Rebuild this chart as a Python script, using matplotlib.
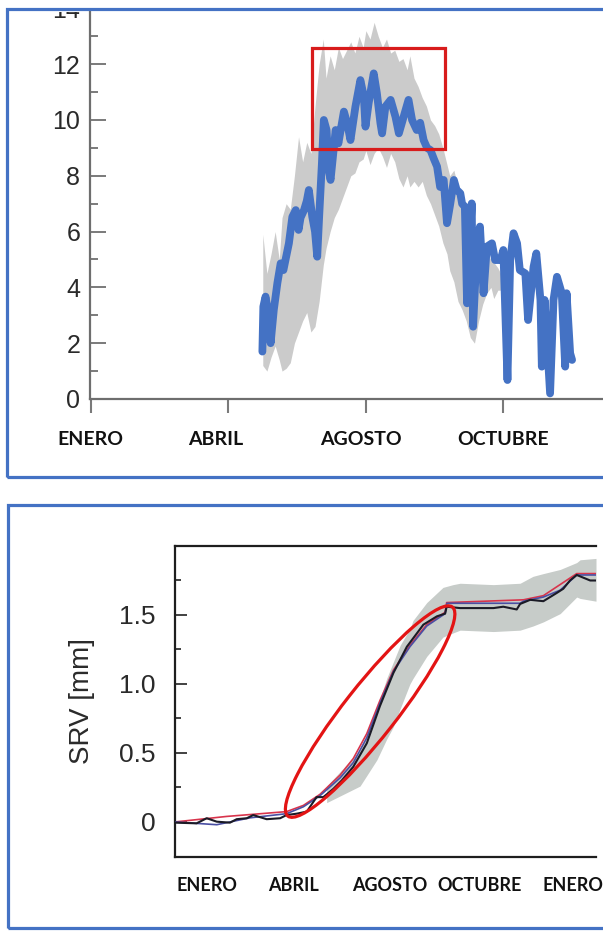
import numpy as np
import matplotlib
matplotlib.use("Agg")
import matplotlib.pyplot as plt
from matplotlib.patches import Rectangle, Ellipse
from matplotlib.transforms import ScaledTranslation, Bbox

plt.rcParams['font.family'] = ['Liberation Sans', 'DejaVu Sans']

# ------------------------------------------------------------
# Datos - panel superior (eje x: indice de mes marcado)
# ------------------------------------------------------------
top_tick_pos = [0, 1, 2, 3]
top_label_pos = [-0.007, 0.908, 1.961, 2.999]
top_labels = ["ENERO", "ABRIL", "AGOSTO", "OCTUBRE"]

serie_x = [1.247, 1.254, 1.270, 1.295, 1.307, 1.330, 1.356, 1.380, 1.400, 1.420,
           1.440, 1.465, 1.490, 1.510, 1.525, 1.550, 1.570, 1.585, 1.610, 1.630,
           1.646, 1.660, 1.680, 1.694, 1.714, 1.730, 1.743, 1.780, 1.800, 1.840,
           1.864, 1.888, 1.924, 1.960, 1.985, 1.997, 2.020, 2.057, 2.080, 2.106,
           2.118, 2.142, 2.180, 2.215, 2.240, 2.275, 2.310, 2.336, 2.370, 2.395,
           2.420, 2.445, 2.470, 2.495, 2.518, 2.540, 2.566, 2.590, 2.614, 2.640,
           2.660, 2.687, 2.700, 2.720, 2.736, 2.770, 2.780, 2.810, 2.830, 2.856,
           2.880, 2.917, 2.940, 2.980, 3.000, 3.030, 3.050, 3.074, 3.100, 3.120,
           3.160, 3.180, 3.220, 3.240, 3.270, 3.280, 3.300, 3.340, 3.365, 3.390,
           3.425, 3.450, 3.460, 3.486, 3.500]
serie_y = [1.70, 3.31, 3.67, 2.95, 2.00, 3.19, 4.15, 4.86, 4.62, 5.10,
           5.58, 6.53, 6.77, 6.06, 6.50, 6.77, 7.10, 7.49, 6.53, 6.00,
           5.10, 6.53, 8.44, 10.00, 9.64, 8.20, 7.85, 9.64, 9.16, 10.30,
           9.88, 9.28, 10.48, 11.43, 10.84, 9.76, 10.60, 11.67, 10.96, 9.88,
           9.52, 10.48, 10.72, 10.12, 9.52, 10.12, 10.72, 10.00, 9.64, 9.90,
           9.28, 9.00, 8.92, 8.60, 8.33, 7.60, 7.85, 6.30, 7.00, 7.85,
           7.50, 7.37, 7.00, 6.89, 3.43, 7.01, 2.59, 5.70, 6.18, 3.79,
           5.46, 5.58, 4.98, 4.98, 5.34, 0.68, 4.98, 5.94, 5.58, 4.62,
           4.50, 2.83, 4.74, 5.22, 3.55, 1.16, 3.55, 0.20, 3.55, 4.38,
           3.79, 1.16, 3.79, 1.64, 1.40]

banda_x = [1.25, 1.28, 1.31, 1.34, 1.37, 1.39, 1.42, 1.45, 1.48, 1.51,
           1.54, 1.57, 1.60, 1.63, 1.66, 1.69, 1.71, 1.74, 1.77, 1.80,
           1.83, 1.86, 1.89, 1.92, 1.95, 1.98, 2.00, 2.03, 2.06, 2.09,
           2.12, 2.15, 2.18, 2.21, 2.24, 2.27, 2.30, 2.32, 2.35, 2.38,
           2.41, 2.44, 2.47, 2.50, 2.53, 2.56, 2.59, 2.61, 2.64, 2.67,
           2.70, 2.73, 2.76, 2.79, 2.82, 2.85, 2.88, 2.91, 2.93, 2.96,
           2.99, 3.02]
banda_sup = [5.9, 4.5, 5.2, 6.0, 5.0, 6.5, 7.0, 6.8, 8.0, 9.4,
             8.5, 9.2, 8.8, 10.5, 12.0, 12.9, 11.5, 12.3, 11.8, 12.6,
             12.2, 12.5, 12.8, 12.4, 13.0, 12.6, 13.2, 12.9, 13.5, 13.0,
             12.6, 12.9, 12.4, 12.5, 12.1, 12.2, 11.8, 12.3, 11.5, 11.2,
             10.8, 10.5, 10.0, 9.8, 9.5, 9.0, 8.4, 8.0, 8.2, 7.6,
             7.0, 6.6, 6.0, 5.6, 5.5, 5.4, 5.2, 5.0, 4.9, 4.7,
             4.4, 4.2]
banda_inf = [1.2, 1.0, 1.5, 1.9, 1.4, 1.0, 1.1, 1.3, 2.0, 2.4,
             2.8, 3.1, 2.4, 2.6, 3.5, 4.8, 5.4, 6.0, 6.5, 6.8,
             7.2, 7.6, 8.0, 8.1, 8.5, 8.6, 8.9, 8.4, 8.8, 9.0,
             8.7, 8.3, 8.8, 8.5, 7.9, 7.6, 8.0, 7.6, 7.8, 7.6,
             7.8, 7.3, 7.0, 6.6, 6.2, 5.6, 5.2, 4.6, 4.2, 3.5,
             3.2, 2.8, 2.2, 2.0, 2.8, 3.4, 3.8, 4.0, 3.6, 3.9,
             3.9, 4.0]

# recuadro rojo (x0, x1, y0, y1)
caja = (1.605, 2.578, 8.96, 12.58)

# ------------------------------------------------------------
# Datos - panel inferior (eje x: meses desde ENERO)
# ------------------------------------------------------------
bot_label_pos = [0.0, 2.81, 5.98, 8.89, 11.97]
bot_labels = ["ENERO", "ABRIL", "AGOSTO", "OCTUBRE", "ENERO"]

negro_x = [-1.05, -0.34, -0.01, 0.32, 0.75, 0.97, 1.30, 1.51, 1.95, 2.39,
           2.60, 2.93, 3.26, 3.58, 3.80, 4.13, 4.40, 4.78, 5.22, 5.65,
           6.09, 6.53, 7.07, 7.51, 7.78, 7.83, 8.27, 9.36, 9.68, 10.12,
           10.23, 10.56, 10.99, 11.21, 11.43, 11.64, 11.86, 12.08, 12.30, 12.52,
           12.71]
negro_y = [-0.005, -0.01, 0.027, 0.002, -0.005, 0.02, 0.027, 0.05, 0.02, 0.027,
           0.05, 0.06, 0.075, 0.18, 0.18, 0.24, 0.30, 0.40, 0.57, 0.84,
           1.08, 1.27, 1.43, 1.49, 1.51, 1.56, 1.55, 1.55, 1.56, 1.54,
           1.58, 1.61, 1.60, 1.63, 1.66, 1.69, 1.75, 1.79, 1.77, 1.75,
           1.75]

rojo_x = [-1.05, 0.64, 2.60, 3.15, 3.69, 4.35, 4.78, 5.22, 5.65, 6.09,
          6.63, 7.18, 7.78, 7.83, 10.34, 10.99, 12.08, 12.71]
rojo_y = [0.0, 0.04, 0.075, 0.12, 0.20, 0.34, 0.46, 0.64, 0.88, 1.10,
          1.28, 1.43, 1.52, 1.59, 1.61, 1.64, 1.80, 1.80]

azul_x = [-1.05, 0.32, 0.75, 1.41, 2.60, 3.15, 3.69, 4.35, 4.78, 5.22,
          5.65, 6.09, 6.63, 7.18, 7.78, 7.84, 10.23, 10.34, 10.99, 11.54,
          12.08, 12.71]
azul_y = [0.0, -0.02, 0.0, 0.03, 0.06, 0.11, 0.19, 0.32, 0.43, 0.61,
          0.86, 1.09, 1.27, 1.42, 1.51, 1.585, 1.585, 1.60, 1.63, 1.68,
          1.79, 1.79]

gris_x = [3.91, 5.00, 5.55, 5.87, 6.09, 6.31, 6.63, 6.73, 7.18, 7.71,
          8.04, 8.27, 9.36, 10.23, 10.65, 10.99, 11.54, 12.08, 12.19, 12.71]
gris_sup = [0.26, 0.52, 0.82, 1.04, 1.16, 1.28, 1.40, 1.46, 1.59, 1.70,
            1.72, 1.73, 1.72, 1.73, 1.78, 1.80, 1.83, 1.88, 1.90, 1.91]
gris_inf = [0.14, 0.26, 0.45, 0.60, 0.69, 0.82, 1.00, 1.04, 1.20, 1.34,
            1.37, 1.39, 1.38, 1.39, 1.42, 1.45, 1.51, 1.63, 1.62, 1.60]

# elipse roja: centro en datos
elipse_centro = (5.33, 0.80)

# ------------------------------------------------------------
# Figura
# ------------------------------------------------------------
W, H = 603, 931
fig = plt.figure(figsize=(W / 100, H / 100), dpi=100)


def px_box(x0, y0, x1, y1):
    # pixeles (origen arriba-izquierda) -> fracciones de figura
    return [x0 / W, 1 - y1 / H, (x1 - x0) / W, (y1 - y0) / H]


# ---------------- panel superior ----------------
ax1 = fig.add_axes(px_box(90, 0, 603, 399))
ax1.fill_between(banda_x, banda_inf, banda_sup, color='#cbcbcb', lw=0, zorder=1)
ax1.plot(serie_x, serie_y, color='#4472c4', lw=5.6, solid_joinstyle='round',
         solid_capstyle='round', zorder=2)
x0, x1, y0, y1 = caja
ax1.add_patch(Rectangle((x0, y0), x1 - x0, y1 - y0, fill=False,
                        edgecolor='#d81c1c', lw=2.3, zorder=3))

ax1.set_xlim(0, 3.725)
ax1.set_ylim(0, 14.3)
for s in ['top', 'right']:
    ax1.spines[s].set_visible(False)
for s in ['left', 'bottom']:
    ax1.spines[s].set_color('#6e6e6e')
    ax1.spines[s].set_linewidth(1.6)

ax1.set_yticks(range(0, 15, 2))
ax1.set_yticks(range(1, 14, 2), minor=True)
ax1.tick_params(axis='y', which='major', direction='in', length=11.5, width=1.4,
                color='#7a7a7a', labelsize=18, labelcolor='#2a2a2a', pad=7)
ax1.tick_params(axis='y', which='minor', direction='in', length=5.8, width=1.4,
                color='#7a7a7a')
# el "14" queda cortado por el marco como en la captura original
clip = Bbox([[0, 0], [W, H - 12]])
for lab in ax1.get_yticklabels():
    lab.set_clip_box(clip)
    lab.set_clip_on(True)

ax1.xaxis.remove_overlapping_locs = False
ax1.set_xticks(top_tick_pos)
ax1.set_xticklabels([])
ax1.set_xticks(top_label_pos, top_labels, minor=True)
ax1.tick_params(axis='x', which='major', direction='out', length=10, width=1.5,
                color='#7a7a7a')
ax1.tick_params(axis='x', which='minor', length=0, pad=23)
for lab in ax1.get_xticklabels(minor=True):
    lab.set_fontfamily(['Lato', 'DejaVu Sans'])
    lab.set_fontweight('bold')
    lab.set_fontsize(14)
    lab.set_color('#111111')

# ---------------- panel inferior ----------------
ax2 = fig.add_axes(px_box(175, 546, 596, 857))
ax2.fill_between(gris_x, gris_inf, gris_sup, color='#c7ccc9', lw=0, zorder=1)
ax2.plot(rojo_x, rojo_y, color='#d8344c', lw=1.2, zorder=2)
ax2.plot(azul_x, azul_y, color='#4a4fa3', lw=1.2, zorder=3)
ax2.plot(negro_x, negro_y, color='#1b1b26', lw=1.5, zorder=4)

ax2.set_xlim(-1.046, 12.71)
ax2.set_ylim(-0.254, 2.0)
ax2.spines['right'].set_visible(False)
for s in ['left', 'top', 'bottom']:
    ax2.spines[s].set_color('#1e1e1e')
    ax2.spines[s].set_linewidth(1.6)

ax2.set_yticks([0, 0.5, 1.0, 1.5], ["0", "0.5", "1.0", "1.5"])
ax2.set_yticks([0.25, 0.75, 1.25, 1.75], minor=True)
ax2.tick_params(axis='y', which='major', direction='in', length=8.6, width=1.3,
                color='#333333', labelsize=19, labelcolor='#2a2a2a', pad=14)
ax2.tick_params(axis='y', which='minor', direction='in', length=4.3, width=1.3,
                color='#333333')
ax2.set_ylabel("SRV [mm]", fontsize=20, color='#2a2a2a')
ax2.yaxis.set_label_coords(-0.19, 0.5)

ax2.set_xticks(bot_label_pos, bot_labels)
ax2.tick_params(axis='x', which='major', length=0, pad=14.5)
for lab in ax2.get_xticklabels():
    lab.set_fontfamily(['Lato', 'DejaVu Sans'])
    lab.set_fontweight('bold')
    lab.set_fontsize(13)
    lab.set_color('#111111')

ell = Ellipse((0, 0), 2.66, 0.52, angle=51.8, fill=False, edgecolor='#e31414',
              lw=2.3, zorder=6,
              transform=fig.dpi_scale_trans + ScaledTranslation(
                  elipse_centro[0], elipse_centro[1], ax2.transData))
ax2.add_artist(ell)

# ---------------- marcos ----------------
fig.add_artist(Rectangle(px_box(0, 0, 603, 9)[:2], 1, 9 / H, transform=fig.transFigure,
                         facecolor='white', edgecolor='none', zorder=10))
for box in [(7, 9, 615, 477), (8, 505, 615, 928)]:
    b = px_box(*box)
    fig.add_artist(Rectangle((b[0], b[1]), b[2], b[3], transform=fig.transFigure,
                             fill=False, edgecolor='#4472c4', lw=2.3, zorder=11))

fig.savefig("out.png", dpi=100)
